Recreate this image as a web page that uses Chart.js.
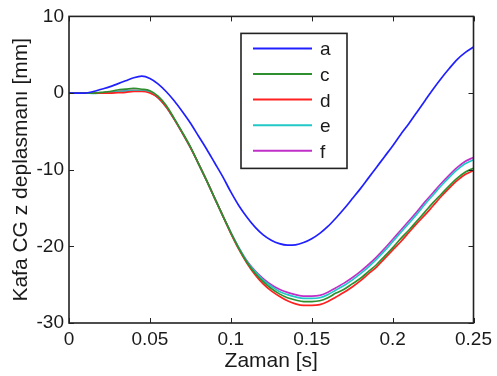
<!DOCTYPE html>
<html>
<head>
<meta charset="utf-8">
<script src="https://cdn.jsdelivr.net/npm/chart.js@4"></script>
<style>
  html, body { margin: 0; padding: 0; background: #fff; }
  #wrap { width: 497px; height: 376px; position: relative; }
</style>
</head>
<body>
<div id="wrap"><canvas id="chart"></canvas></div>
<script>
// time axis [s]
const time = [
  0, 0.005, 0.01, 0.015, 0.02, 0.025, 0.03, 0.035, 0.04, 0.045,
  0.05, 0.055, 0.06, 0.065, 0.07, 0.075, 0.08, 0.085, 0.09, 0.095,
  0.1, 0.105, 0.11, 0.115, 0.12, 0.125, 0.13, 0.135, 0.14, 0.145,
  0.15, 0.155, 0.16, 0.165, 0.17, 0.175, 0.18, 0.185, 0.19, 0.195,
  0.2, 0.205, 0.21, 0.215, 0.22, 0.225, 0.23, 0.235, 0.24, 0.245, 0.25
];

// head CG z displacement [mm]
const dispA = [
  0, 0, 0, 0.2, 0.5, 0.8, 1.2, 1.6, 2.0, 2.2,
  1.9, 1.2, 0.2, -1.0, -2.4, -3.9, -5.6, -7.3, -9.1, -10.9,
  -12.9, -14.7, -16.2, -17.5, -18.5, -19.2, -19.65, -19.85, -19.8, -19.5,
  -19.0, -18.3, -17.4, -16.3, -15.1, -13.8, -12.5, -11.1, -9.7, -8.3,
  -6.9, -5.4, -4.0, -2.5, -1.0, 0.5, 1.9, 3.2, 4.4, 5.3, 6.0
];
const dispC = [
  0, 0, 0, 0, 0.1, 0.2, 0.4, 0.5, 0.6, 0.5,
  0.3, -0.4, -1.6, -3.3, -5.1, -7.0, -9.2, -11.4, -13.7, -16.0,
  -18.2, -20.3, -22.1, -23.5, -24.6, -25.5, -26.2, -26.7, -27.0, -27.2,
  -27.2, -27.1, -26.7, -26.1, -25.6, -24.9, -24.2, -23.3, -22.4, -21.3,
  -20.2, -19.0, -17.9, -16.7, -15.5, -14.3, -13.2, -12.1, -11.1, -10.3, -9.8
];
const dispD = [
  0, 0, 0, 0, 0, 0, 0.05, 0.1, 0.2, 0.2,
  0, -0.6, -1.8, -3.4, -5.2, -7.1, -9.2, -11.4, -13.7, -16.0,
  -18.3, -20.4, -22.2, -23.7, -24.9, -25.8, -26.5, -27.1, -27.5, -27.7,
  -27.7, -27.6, -27.2, -26.6, -26.0, -25.3, -24.5, -23.6, -22.7, -21.6,
  -20.5, -19.4, -18.2, -17.0, -15.9, -14.7, -13.5, -12.4, -11.4, -10.6, -10.1
];
const dispE = [
  0, 0, 0, -0.05, 0, 0.05, 0.15, 0.25, 0.3, 0.3,
  0.1, -0.6, -1.8, -3.4, -5.2, -7.1, -9.2, -11.4, -13.7, -16.0,
  -18.2, -20.2, -22.0, -23.3, -24.4, -25.2, -25.9, -26.3, -26.6, -26.8,
  -26.8, -26.7, -26.3, -25.7, -25.1, -24.4, -23.6, -22.7, -21.7, -20.6,
  -19.4, -18.2, -17.0, -15.8, -14.5, -13.3, -12.1, -11.0, -10.0, -9.2, -8.7
];
const dispF = [
  0, 0, 0, 0, 0, 0.1, 0.2, 0.3, 0.35, 0.3,
  0.1, -0.6, -1.8, -3.4, -5.2, -7.1, -9.2, -11.4, -13.7, -16.0,
  -18.2, -20.2, -21.9, -23.2, -24.2, -25.0, -25.6, -26.0, -26.3, -26.5,
  -26.5, -26.4, -26.0, -25.4, -24.8, -24.1, -23.3, -22.4, -21.4, -20.3,
  -19.1, -17.9, -16.7, -15.5, -14.2, -13.0, -11.8, -10.7, -9.7, -8.9, -8.4
];

const seriesNames = ["a", "c", "d", "e", "f"];
const seriesData = [dispA, dispC, dispD, dispE, dispF];
const seriesColors = ["#2020ff", "#2e8f2e", "#ff2020", "#20c8c8", "#c030c8"];

const FONT = "Arial, 'Liberation Sans', sans-serif";
const INK = "#1a1a1a";

// MATLAB-like box with inward ticks on all four sides
const frame = {
  id: "frame",
  afterDatasetsDraw(chart) {
    const { ctx, chartArea: a, scales } = chart;
    const len = 5;
    ctx.save();
    ctx.strokeStyle = "#222";
    ctx.lineWidth = 1;
    ctx.beginPath();
    scales.x.ticks.forEach((t) => {
      const px = Math.round(scales.x.getPixelForValue(t.value)) + 0.5;
      ctx.moveTo(px, a.bottom); ctx.lineTo(px, a.bottom - len);
      ctx.moveTo(px, a.top); ctx.lineTo(px, a.top + len);
    });
    scales.y.ticks.forEach((t) => {
      const py = Math.round(scales.y.getPixelForValue(t.value)) + 0.5;
      ctx.moveTo(a.left, py); ctx.lineTo(a.left + len, py);
      ctx.moveTo(a.right, py); ctx.lineTo(a.right - len, py);
    });
    ctx.stroke();
    ctx.lineWidth = 1.6;
    ctx.strokeRect(a.left, a.top, a.right - a.left, a.bottom - a.top);
    ctx.restore();
  },
};

// boxed legend inside the plot area
const boxLegend = {
  id: "boxLegend",
  afterDraw(chart) {
    const { ctx, chartArea: a } = chart;
    const left = a.left + 172, top = a.top + 17, w = 106, h = 135;
    ctx.save();
    ctx.fillStyle = "#fff";
    ctx.fillRect(left, top, w, h);
    ctx.strokeStyle = "#222";
    ctx.lineWidth = 1.6;
    ctx.strokeRect(left, top, w, h);
    ctx.font = "19px " + FONT;
    ctx.textBaseline = "alphabetic";
    ctx.fillStyle = INK;
    chart.data.datasets.forEach((ds, i) => {
      const y = top + 15 + i * 25.6;
      ctx.strokeStyle = ds.borderColor;
      ctx.lineWidth = 2;
      ctx.beginPath();
      ctx.moveTo(left + 12, y);
      ctx.lineTo(left + 71, y);
      ctx.stroke();
      ctx.fillText(ds.label, left + 79, y + 7);
    });
    ctx.restore();
  },
};

window.onload = function () {
  const ctx = document.getElementById("chart").getContext("2d");

  const datasets = seriesNames.map((name, i) => ({
    label: name,
    data: time.map((t, j) => ({ x: t, y: seriesData[i][j] })),
    borderColor: seriesColors[i],
    backgroundColor: seriesColors[i],
    borderWidth: 1.7,
    pointRadius: 0,
    cubicInterpolationMode: "monotone",
  }));

  new Chart(ctx, {
    type: "line",
    data: { datasets: datasets },
    options: {
      responsive: true,
      maintainAspectRatio: false,
      animation: false,
      layout: { padding: { top: 12, right: 21, left: 0, bottom: 0 } },
      plugins: {
        legend: { display: false },
        tooltip: { enabled: false },
      },
      scales: {
        x: {
          type: "linear",
          min: 0,
          max: 0.25,
          grid: { display: false, drawTicks: false },
          border: { display: false },
          ticks: {
            stepSize: 0.05,
            padding: 5,
            maxRotation: 0,
            color: INK,
            font: { family: FONT, size: 19 },
            callback: (v) => String(+v.toFixed(2)),
          },
          title: {
            display: true,
            text: "Zaman [s]",
            color: INK,
            font: { family: FONT, size: 21 },
            padding: { top: 0, bottom: 2 },
          },
          afterFit: (s) => { s.height = 53; },
        },
        y: {
          min: -30,
          max: 10,
          grid: { display: false, drawTicks: false },
          border: { display: false },
          ticks: {
            stepSize: 10,
            padding: 5,
            color: INK,
            font: { family: FONT, size: 19 },
            callback: (v) => String(v),
          },
          title: {
            display: true,
            text: "Kafa CG z deplasmanı [mm]",
            color: INK,
            font: { family: FONT, size: 21 },
            padding: { top: 9, bottom: 0 },
          },
          afterFit: (s) => { s.width = 69; },
        },
      },
    },
    plugins: [frame, boxLegend],
  });
};
</script>
</body>
</html>
